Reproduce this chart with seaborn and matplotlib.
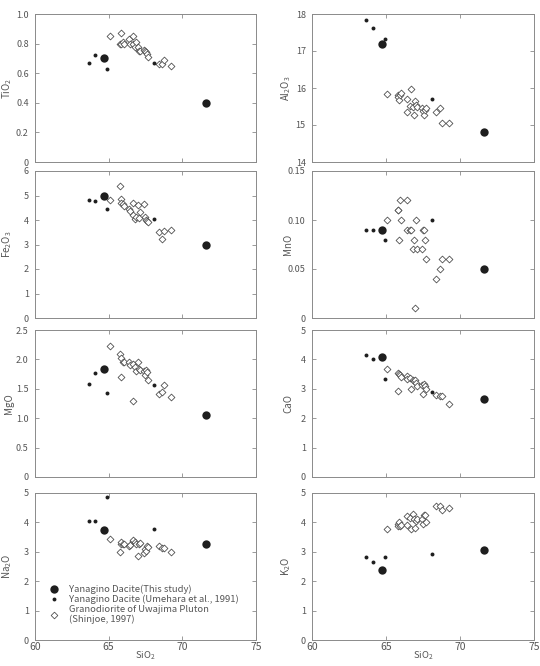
import numpy as np
import pandas as pd
import matplotlib
matplotlib.use("Agg")
import matplotlib.pyplot as plt
from matplotlib.lines import Line2D
import seaborn as sns

# ---------------- data ----------------
# Yanagino Dacite (This study)
this_sio2 = [64.7, 71.6]
this_tio2 = [0.70, 0.40]
this_al2o3 = [17.2, 14.8]
this_fe2o3 = [5.0, 3.0]
this_mno = [0.09, 0.05]
this_mgo = [1.83, 1.05]
this_cao = [4.07, 2.67]
this_na2o = [3.73, 3.27]
this_k2o = [2.38, 3.05]

# Yanagino Dacite (Umehara et al., 1991)
ume_sio2 = [63.65, 64.1, 64.9, 68.1]
ume_tio2 = [0.67, 0.72, 0.63, 0.67]
ume_al2o3 = [17.83, 17.63, 17.33, 15.70]
ume_fe2o3 = [4.83, 4.76, 4.43, 4.06]
ume_mno = [0.09, 0.09, 0.08, 0.10]
ume_mgo = [1.58, 1.77, 1.43, 1.57]
ume_cao = [4.15, 4.03, 3.33, 2.88]
ume_na2o = [4.06, 4.06, 4.88, 3.77]
ume_k2o = [2.83, 2.65, 2.83, 2.93]

# Granodiorite of Uwajima Pluton (Shinjoe, 1997)
gra_sio2 = [65.10, 65.78, 65.82, 65.86, 65.95, 66.02, 66.40, 66.45, 66.62, 66.68,
            66.80, 66.88, 66.98, 67.04, 67.10, 67.42, 67.48, 67.55, 67.62, 67.68,
            68.40, 68.65, 68.77, 69.26]
gra_tio2 = [0.85, 0.80, 0.87, 0.80, 0.81, 0.80, 0.83, 0.80, 0.80, 0.85,
            0.78, 0.81, 0.78, 0.75, 0.75, 0.76, 0.75, 0.74, 0.73, 0.71,
            0.66, 0.66, 0.69, 0.65]
gra_al2o3 = [15.85, 15.80, 15.77, 15.67, 15.80, 15.87, 15.36, 15.71, 15.52, 15.96,
             15.48, 15.27, 15.64, 15.54, 15.49, 15.47, 15.38, 15.27, 15.41, 15.45,
             15.36, 15.47, 15.05, 15.06]
gra_fe2o3 = [4.81, 5.38, 4.84, 4.69, 4.65, 4.58, 4.43, 4.35, 4.21, 4.69,
             4.03, 4.14, 4.60, 4.08, 4.33, 4.67, 4.14, 4.01, 3.94, 3.93,
             3.51, 3.21, 3.56, 3.60]
gra_mno = [0.10, 0.11, 0.11, 0.08, 0.12, 0.10, 0.09, 0.12, 0.09, 0.09,
           0.07, 0.08, 0.01, 0.10, 0.07, 0.07, 0.09, 0.09, 0.08, 0.06,
           0.04, 0.05, 0.06, 0.06]
gra_mgo = [2.23, 2.09, 1.70, 2.02, 1.95, 1.95, 1.95, 1.90, 1.92, 1.30,
           1.87, 1.80, 1.95, 1.83, 1.82, 1.81, 1.74, 1.82, 1.78, 1.65,
           1.41, 1.44, 1.57, 1.36]
gra_cao = [3.68, 2.92, 3.55, 3.50, 3.46, 3.39, 3.45, 3.35, 3.38, 3.01,
           3.31, 3.27, 3.30, 3.20, 3.08, 3.12, 2.83, 3.15, 3.08, 3.00,
           2.80, 2.74, 2.74, 2.47]
gra_na2o = [3.45, 3.01, 3.28, 3.32, 3.25, 3.28, 3.20, 3.22, 3.36, 3.39,
            3.34, 3.26, 2.85, 3.28, 3.30, 2.96, 3.11, 3.03, 3.19, 3.15,
            3.20, 3.14, 3.13, 2.99]
gra_k2o = [3.79, 3.95, 3.89, 4.02, 3.87, 3.90, 4.21, 3.91, 4.16, 3.79,
           4.30, 4.12, 3.82, 4.05, 4.10, 4.10, 3.93, 4.25, 4.25, 4.02,
           4.57, 4.56, 4.42, 4.50]

oxides = ["TiO2", "Al2O3", "Fe2O3", "MnO", "MgO", "CaO", "Na2O", "K2O"]
oxide_labels = ["TiO$_2$", "Al$_2$O$_3$", "Fe$_2$O$_3$", "MnO", "MgO", "CaO",
                "Na$_2$O", "K$_2$O"]
ylims = [(0, 1.0), (14, 18), (0, 6), (0, 0.15), (0, 2.5), (0, 5), (0, 5), (0, 5)]
yticks = [[0, 0.2, 0.4, 0.6, 0.8, 1.0], [14, 15, 16, 17, 18], [0, 1, 2, 3, 4, 5, 6],
          [0, 0.05, 0.10, 0.15], [0, 0.5, 1.0, 1.5, 2.0, 2.5], [0, 1, 2, 3, 4, 5],
          [0, 1, 2, 3, 4, 5], [0, 1, 2, 3, 4, 5]]
yticklabels = [["0", "0.2", "0.4", "0.6", "0.8", "1.0"], ["14", "15", "16", "17", "18"],
               ["0", "1", "2", "3", "4", "5", "6"], ["0", "0.05", "0.10", "0.15"],
               ["0", "0.5", "1.0", "1.5", "2.0", "2.5"], ["0", "1", "2", "3", "4", "5"],
               ["0", "1", "2", "3", "4", "5"], ["0", "1", "2", "3", "4", "5"]]
xticks = [60, 65, 70, 75]

this_df = pd.DataFrame(dict(SiO2=this_sio2, TiO2=this_tio2, Al2O3=this_al2o3, Fe2O3=this_fe2o3,
                            MnO=this_mno, MgO=this_mgo, CaO=this_cao, Na2O=this_na2o, K2O=this_k2o))
ume_df = pd.DataFrame(dict(SiO2=ume_sio2, TiO2=ume_tio2, Al2O3=ume_al2o3, Fe2O3=ume_fe2o3,
                           MnO=ume_mno, MgO=ume_mgo, CaO=ume_cao, Na2O=ume_na2o, K2O=ume_k2o))
gra_df = pd.DataFrame(dict(SiO2=gra_sio2, TiO2=gra_tio2, Al2O3=gra_al2o3, Fe2O3=gra_fe2o3,
                           MnO=gra_mno, MgO=gra_mgo, CaO=gra_cao, Na2O=gra_na2o, K2O=gra_k2o))

# ---------------- style ----------------
sns.set_style("white")
plt.rcParams["font.family"] = ["Noto Sans CJK JP", "DejaVu Sans"]
plt.rcParams["mathtext.fontset"] = "custom"
plt.rcParams["mathtext.rm"] = "Noto Sans CJK JP"
plt.rcParams["mathtext.default"] = "regular"

TXT = "#555555"
SPINE = "#8a8a8a"
DARK = "#1e1e1e"

fig = plt.figure(figsize=(5.40, 6.66), dpi=100)
W, H = 540.0, 666.0
cols = [(35, 256), (312, 534)]
rows = [(14, 162), (171, 318), (330, 477), (493, 640)]
label_x = [-0.095, -0.085]

for i, ox in enumerate(oxides):
    r, c = divmod(i, 2)
    x0, x1 = cols[c]
    t, b = rows[r]
    ax = fig.add_axes([x0 / W, 1 - b / H, (x1 - x0) / W, (b - t) / H])

    sns.scatterplot(data=gra_df, x="SiO2", y=ox, ax=ax, marker="D", s=12,
                    color="white", edgecolor="#505050", linewidth=0.6, zorder=2, legend=False)
    sns.scatterplot(data=ume_df, x="SiO2", y=ox, ax=ax, marker="o", s=8,
                    color=DARK, edgecolor=DARK, linewidth=0, zorder=3, legend=False)
    sns.scatterplot(data=this_df, x="SiO2", y=ox, ax=ax, marker="o", s=36,
                    color=DARK, edgecolor=DARK, linewidth=0, zorder=4, legend=False)

    ax.set_xlim(60, 75)
    ax.set_ylim(*ylims[i])
    ax.set_xticks(xticks)
    ax.set_yticks(yticks[i])
    ax.set_yticklabels(yticklabels[i])
    ax.tick_params(direction="in", length=3, width=0.6, color=SPINE,
                   top=True, right=True, bottom=True, left=True,
                   labelsize=6.5, labelcolor=TXT, pad=4.5)
    ax.tick_params(axis="x", labelsize=7.5, pad=1.8)
    for sp in ax.spines.values():
        sp.set_color(SPINE)
        sp.set_linewidth(0.7)
    ax.set_ylabel(oxide_labels[i], fontsize=7, color=TXT)
    ax.yaxis.set_label_coords(label_x[c], 0.5)
    if r == 3:
        ax.set_xlabel("SiO$_2$", fontsize=6.8, color=TXT, labelpad=-1.8)
    else:
        ax.set_xlabel("")
        ax.set_xticklabels([])

    if ox == "Na2O":
        handles = [
            Line2D([], [], marker="o", ls="", color=DARK, markersize=6.0, markeredgewidth=0),
            Line2D([], [], marker="o", ls="", color=DARK, markersize=2.8, markeredgewidth=0),
            Line2D([], [], marker="D", ls="", markerfacecolor="white",
                   markeredgecolor="#505050", markersize=3.4, markeredgewidth=0.6),
        ]
        labels = ["Yanagino Dacite(This study)",
                  "Yanagino Dacite (Umehara et al., 1991)",
                  "Granodiorite of Uwajima Pluton\n(Shinjoe, 1997)"]
        leg = ax.legend(handles, labels, loc="upper left", bbox_to_anchor=(0.045, 0.40),
                        frameon=False, fontsize=6.8, handletextpad=0.9,
                        labelspacing=0.05, handlelength=1.2, borderaxespad=0)
        for txt in leg.get_texts():
            txt.set_color(TXT)

fig.savefig("out.png", dpi=100)
